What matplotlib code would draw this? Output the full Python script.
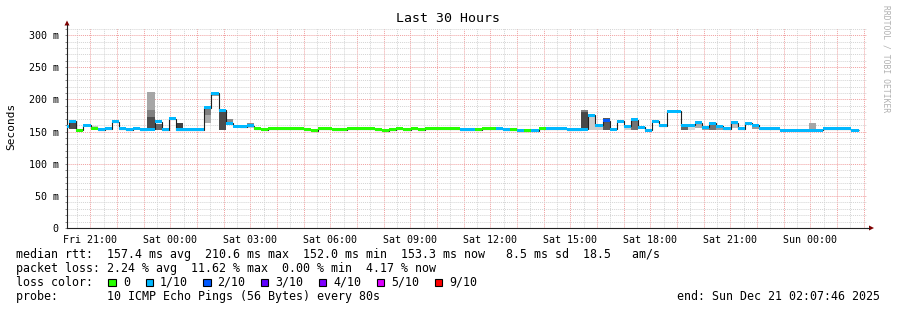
import numpy as np
import matplotlib
matplotlib.use("Agg")
import matplotlib.pyplot as plt
from matplotlib.ticker import MultipleLocator, FuncFormatter
from matplotlib.patches import Rectangle, Polygon
from matplotlib.lines import Line2D

W, H, DPI = 897, 310, 100
MONO = "DejaVu Sans Mono"

# ---------------- data ----------------
# time axis in hours since Fri 00:00
x_start, x_end = 20.1294, 50.1294
t_first = 19.948          # start of first (partial) consolidated bin
bin_minutes = 16

# median rtt per bin (ms)
median_ms = [
    158, 166, 152, 160, 155, 152.5, 154, 165, 154, 152.5, 155, 152.5,
    153.5, 165, 153, 170, 153, 153, 153, 153, 187, 209.5, 183, 163,
    158.5, 157.5, 159,
    154, 153, 154.5, 154.5, 154.5, 154.5, 154.5, 153, 151, 154.5, 154.5,
    153, 153, 154.5, 154.5, 154.5, 154.5, 153, 151, 153, 154.5, 153,
    154.5, 153, 154.5, 154.5, 154.5, 154.5, 154.5,
    153, 153, 153, 154.5, 154.5, 154.5, 153, 153, 151, 151, 151, 154.5,
    154.5, 154.5, 154.5, 153, 153,
    153.5, 175, 160, 167, 153.5, 166, 158.5, 168, 156.5, 152.3, 166, 159,
    181.5, 181.5, 160, 160, 164, 157, 162.5, 158.5, 154, 164, 154, 162.5,
    160, 154, 154, 154, 152.3, 152.3, 152.3, 152.3, 152.3, 152.3,
    154, 154, 154, 154, 152.3,
]
# loss level per bin (0 -> 0, 1 -> 1/10, 2 -> 2/10 ...)
loss_level = [
    1, 1, 0, 1, 0, 1, 1, 1, 1, 1, 1, 1,
    1, 1, 1, 1, 1, 1, 1, 1, 1, 1, 1, 1,
    1, 1, 1,
    0, 0, 0, 0, 0, 0, 0, 0, 0, 0, 0,
    0, 0, 0, 0, 0, 0, 0, 0, 0, 0, 0,
    0, 0, 0, 0, 0, 0, 0,
    1, 1, 0, 0, 0, 1, 1, 0, 1, 0, 1, 0,
    1, 1, 1, 1, 1,
    1, 1, 1, 2, 1, 1, 1, 1, 1, 1, 1, 1,
    1, 1, 1, 1, 1, 1, 1, 1, 1, 1, 1, 1,
    1, 1, 1, 1, 1, 1, 1, 1, 1, 1,
    1, 1, 1, 1, 1,
]
# smoke (ping spread) bands: bin index, low/high (ms), grey level
smoke_bin = [1, 4, 12, 12, 12, 13, 16, 20, 20, 21, 22, 23, 26, 26,
             73, 73, 74, 75, 76, 79, 80, 87, 88, 89, 90, 91, 92, 94, 96, 97, 105]
smoke_lo = [154, 154, 153, 172, 183, 152, 153, 164, 175, 205, 152, 163, 155, 158,
            153, 180, 153, 153, 152.5, 153, 152, 152, 153, 155, 152, 153, 153, 155, 160, 154, 153]
smoke_hi = [165, 158, 172, 183, 211.5, 162, 163, 175, 186, 209, 180, 170, 158, 163,
            180, 184, 175, 160, 170.5, 158, 168, 160, 160, 162, 157, 163, 158, 167, 164, 162, 163]
smoke_gray = [0.30, 0.78, 0.30, 0.50, 0.65, 0.40, 0.25, 0.68, 0.50, 0.60, 0.30, 0.55, 0.80, 0.55,
              0.28, 0.50, 0.80, 0.80, 0.35, 0.82, 0.45, 0.40, 0.85, 0.68, 0.62, 0.45, 0.62, 0.75, 0.35, 0.60, 0.65]

loss_colors = ["#26ff00", "#00b8ff", "#0059ff", "#5e00ff", "#7e00ff", "#dd00ff", "#ff0000"]
loss_labels = ["0", "1/10", "2/10", "3/10", "4/10", "5/10", "9/10"]

tick_hours = [21, 24, 27, 30, 33, 36, 39, 42, 45, 48]
tick_labels = ["Fri 21:00", "Sat 00:00", "Sat 03:00", "Sat 06:00", "Sat 09:00",
               "Sat 12:00", "Sat 15:00", "Sat 18:00", "Sat 21:00", "Sun 00:00"]

stats_rtt = "median rtt:  157.4 ms avg  210.6 ms max  152.0 ms min  153.3 ms now   8.5 ms sd  18.5   am/s"
stats_loss = "packet loss: 2.24 % avg  11.62 % max  0.00 % min  4.17 % now"
probe_txt = "probe:       10 ICMP Echo Pings (56 Bytes) every 80s"
end_txt = "end: Sun Dec 21 02:07:46 2025"

# ---------------- figure ----------------
fig = plt.figure(figsize=(W / DPI, H / DPI), dpi=DPI, facecolor="white")


def fx(x):
    return x / W


def fy(y):
    return 1 - y / H


ax = fig.add_axes([fx(67), fy(228), 800 / W, 200 / H])
ax.set_facecolor("white")
ax.set_xlim(x_start, x_end)
ax.set_ylim(0, 311)

bw = bin_minutes / 60.0
n = len(median_ms)
edges = t_first + np.arange(n + 1) * bw
med = np.array(median_ms, dtype=float)

# smoke
sb = np.array(smoke_bin)
lo = np.array(smoke_lo)
hi = np.array(smoke_hi)
ax.bar(edges[sb], hi - lo, bottom=lo, width=bw, align="edge",
       color=[str(g) for g in smoke_gray], linewidth=0, zorder=2)

# median thin line
ax.stairs(med, edges, baseline=None, color="#202020", linewidth=0.8, zorder=3)

# median coloured band
sw = 2.3
ax.bar(edges[:-1], 2 * sw, bottom=med - sw, width=bw, align="edge",
       color=[loss_colors[l] for l in loss_level], linewidth=0, zorder=4)

# grid
ax.xaxis.set_major_locator(MultipleLocator(1))
ax.xaxis.set_minor_locator(MultipleLocator(0.5))
ax.yaxis.set_major_locator(MultipleLocator(50))
ax.yaxis.set_minor_locator(MultipleLocator(10))
ax.grid(which="minor", color="#d4d4d4", linestyle=(0, (1, 1)), linewidth=0.7)
ax.grid(which="major", color="#f0a0a0", linestyle=(0, (1, 1)), linewidth=0.7)
ax.set_axisbelow(True)

lab = {h: l for h, l in zip(tick_hours, tick_labels)}
ax.xaxis.set_major_formatter(FuncFormatter(lambda v, p: lab.get(int(round(v)), "")))
ax.yaxis.set_major_formatter(FuncFormatter(lambda v, p: "0" if v == 0 else f"{int(v)} m"))

ax.tick_params(axis="both", which="both", length=1.5, width=0.6, color="#777777",
               direction="out", labelsize=7.2, labelcolor="black")
ax.tick_params(axis="x", which="both", length=0)
ax.tick_params(axis="x", which="major", pad=5)
ax.tick_params(axis="y", which="major", pad=4.5)
for t in ax.get_xticklabels() + ax.get_yticklabels():
    t.set_fontfamily(MONO)

for s in ["top", "right"]:
    ax.spines[s].set_visible(False)
for s in ["left", "bottom"]:
    ax.spines[s].set_color("#222222")
    ax.spines[s].set_linewidth(0.8)

# axis extensions and arrows
fig.add_artist(Line2D([fx(866.7), fx(869)], [fy(228), fy(228)], color="#222222", lw=0.8))
fig.add_artist(Line2D([fx(67), fx(67)], [fy(28), fy(25)], color="#222222", lw=0.8))
fig.add_artist(Polygon([[fx(869), fy(225.5)], [fx(874), fy(228)], [fx(869), fy(230.5)]],
                       closed=True, color="#7f0000", lw=0))
fig.add_artist(Polygon([[fx(64.5), fy(25.5)], [fx(67), fy(20.5)], [fx(69.5), fy(25.5)]],
                       closed=True, color="#7f0000", lw=0))

# titles
fig.text(fx(447.5), fy(19), "Last 30 Hours", ha="center", va="center",
         fontsize=9.5, family=MONO)
fig.text(fx(11), fy(126.5), "Seconds", ha="center", va="center", rotation=90,
         fontsize=8.0, family=MONO)
fig.text(fx(886), fy(59), "RRDTOOL / TOBI OETIKER", ha="center", va="center",
         rotation=270, fontsize=5.8, family=MONO, color="#b0b0b0")

# legend / stats
fs = 8.4
fig.text(fx(16), fy(254.5), stats_rtt, ha="left", va="center", fontsize=fs, family=MONO)
fig.text(fx(16), fy(268.3), stats_loss, ha="left", va="center", fontsize=fs, family=MONO)
fig.text(fx(16), fy(282.3), "loss color:", ha="left", va="center", fontsize=fs, family=MONO)
fig.text(fx(16), fy(296.3), probe_txt, ha="left", va="center", fontsize=fs, family=MONO)
fig.text(fx(880), fy(296.3), end_txt, ha="right", va="center", fontsize=fs, family=MONO)

box_x = [108.3, 145.7, 203.3, 261, 319, 376.7, 435]
text_x = [123, 160, 217.3, 275.3, 333.3, 391, 449.3]
for bx, tx, c, l in zip(box_x, text_x, loss_colors, loss_labels):
    fig.add_artist(Rectangle((fx(bx), fy(286.3)), 7.3 / W, 7.3 / H, facecolor=c,
                             edgecolor="black", linewidth=0.8, transform=fig.transFigure))
    fig.text(fx(tx), fy(282.3), l, ha="left", va="center", fontsize=fs, family=MONO)

fig.savefig("out.png", dpi=DPI, facecolor="white")
